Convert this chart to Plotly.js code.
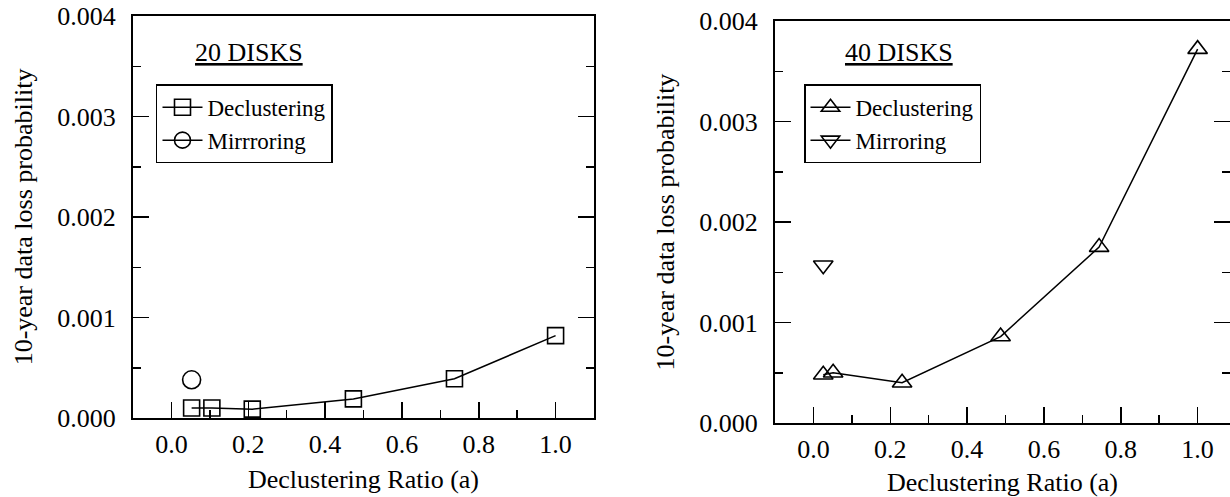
<!DOCTYPE html>
<html>
<head>
<meta charset="utf-8">
<script src="https://cdn.plot.ly/plotly-3.0.1.min.js"></script>
<style>
  html, body { margin: 0; padding: 0; overflow: hidden; background: #fff; }
  #chart { width: 1230px; height: 497px; }
</style>
</head>
<body>
<div id="chart"></div>
<script>
// ---- data ----
// 20 disks
const ratio20 = [0.0526, 0.1053, 0.2105, 0.4737, 0.7368, 1.0];
const declust20 = [0.00010, 0.00010, 0.000088, 0.00019, 0.00039, 0.00082];
const mirrorRatio20 = [0.0526];
const mirror20 = [0.00038];
// 40 disks
const ratio40 = [0.0256, 0.0513, 0.2308, 0.4872, 0.7436, 1.0];
const declust40 = [0.00048, 0.00050, 0.00040, 0.00086, 0.00175, 0.00372];
const mirrorRatio40 = [0.0256];
const mirror40 = [0.00157];

const xTickVals = [0, 0.2, 0.4, 0.6, 0.8, 1.0];
const xTickText = ['0.0', '0.2', '0.4', '0.6', '0.8', '1.0'];
const yTickVals = [0, 0.001, 0.002, 0.003, 0.004];
const yTickText = ['0.000', '0.001', '0.002', '0.003', '0.004'];

const xTitle = 'Declustering Ratio (a)';
const yTitle = '10-year data loss probability';
const panelTitles = ['<u>20 DISKS</u>', '<u>40 DISKS</u>'];

// ---- styles ----
const SERIF = 'Liberation Serif';
const INK = '#000';

function xAxis(domain, anchor, range) {
  return {
    domain: domain, anchor: anchor, range: range,
    tickmode: 'array', tickvals: xTickVals, ticktext: xTickText,
    ticks: 'inside', ticklen: 16, tickwidth: 1.5, tickcolor: INK,
    minor: { dtick: 0.1, tick0: 0, ticks: 'inside', ticklen: 8, tickwidth: 1.5, tickcolor: INK, showgrid: false },
    showline: true, linewidth: 2, linecolor: INK, mirror: true,
    showgrid: false, zeroline: false,
    tickfont: { family: SERIF, size: 26, color: INK },
    ticklabelstandoff: 2,
    title: { text: xTitle, font: { family: SERIF, size: 26, color: INK }, standoff: 12 },
    automargin: false, fixedrange: true
  };
}
function yAxis(domain, anchor, mirror) {
  return {
    domain: domain, anchor: anchor, range: [0, 0.004],
    tickmode: 'array', tickvals: yTickVals, ticktext: yTickText,
    ticks: 'inside', ticklen: 16, tickwidth: 1.5, tickcolor: INK,
    minor: { dtick: 0.0005, tick0: 0, ticks: 'inside', ticklen: 8, tickwidth: 1.5, tickcolor: INK, showgrid: false },
    showline: true, linewidth: 2, linecolor: INK, mirror: mirror,
    showgrid: false, zeroline: false,
    tickfont: { family: SERIF, size: 26, color: INK },
    ticklabelstandoff: 10,
    title: { text: yTitle, font: { family: SERIF, size: 26, color: INK }, standoff: 17 },
    automargin: false, fixedrange: true
  };
}

const lineStyle = { color: INK, width: 1.5 };

const traces = [
  { x: ratio20, y: declust20, name: 'Declustering', xaxis: 'x', yaxis: 'y',
    mode: 'lines+markers', line: lineStyle, legend: 'legend',
    marker: { symbol: 'square-open', size: 16, color: INK, line: { width: 1.6, color: INK } } },
  { x: mirrorRatio20, y: mirror20, name: 'Mirrroring', xaxis: 'x', yaxis: 'y',
    mode: 'lines+markers', line: lineStyle, legend: 'legend',
    marker: { symbol: 'circle-open', size: 18, color: INK, line: { width: 1.6, color: INK } } },
  { x: ratio40, y: declust40, name: 'Declustering', xaxis: 'x2', yaxis: 'y2',
    mode: 'lines+markers', line: lineStyle, legend: 'legend2',
    marker: { symbol: 'triangle-up-open', size: 17, color: INK, line: { width: 1.6, color: INK } } },
  { x: mirrorRatio40, y: mirror40, name: 'Mirroring', xaxis: 'x2', yaxis: 'y3',
    mode: 'lines+markers', line: lineStyle, legend: 'legend2',
    marker: { symbol: 'triangle-down-open', size: 17, color: INK, line: { width: 1.6, color: INK } } }
];

function legendStyle(x, y) {
  return {
    x: x, y: y,
    font: { family: SERIF, size: 23, color: INK },
    bordercolor: INK, borderwidth: 1.5, bgcolor: '#fff',
    xanchor: 'left', yanchor: 'top', itemwidth: 40, tracegroupgap: 0,
    itemclick: false, itemdoubleclick: false
  };
}

// right panel is cropped at the picture's right edge
const rightPanelRange = [-0.1, 1.0843];

const layout = {
  width: 1230, height: 497,
  margin: { l: 133, r: 0, t: 16, b: 74, pad: 0 },
  paper_bgcolor: '#fff', plot_bgcolor: '#fff',
  font: { family: SERIF, color: INK },
  xaxis: xAxis([0, 0.42024], 'y', [-0.1, 1.1]),
  yaxis: yAxis([0.012285, 1], 'x', 'allticks'),
  xaxis2: xAxis([0.58523, 1], 'y2', rightPanelRange),
  yaxis2: yAxis([0, 0.98771], 'x2', false),
  yaxis3: {
    overlaying: 'y2', side: 'right', anchor: 'x2', range: [0, 0.004],
    tickmode: 'array', tickvals: yTickVals, showticklabels: false,
    ticks: 'inside', ticklen: 16, tickwidth: 1.5, tickcolor: INK,
    minor: { dtick: 0.0005, tick0: 0, ticks: 'inside', ticklen: 8, tickwidth: 1.5, tickcolor: INK, showgrid: false },
    showline: false, showgrid: false, zeroline: false, fixedrange: true
  },
  legend: legendStyle(0.020966, 0.8322),
  legend2: legendStyle(0.61167, 0.8322),
  annotations: [
    { text: panelTitles[0], xref: 'x domain', yref: 'y domain', x: 0.2514, y: 0.9104,
      xanchor: 'center', yanchor: 'middle', showarrow: false,
      font: { family: SERIF, size: 26, color: INK } },
    { text: panelTitles[1], xref: 'x2 domain', yref: 'y2 domain', x: 0.2736, y: 0.921,
      xanchor: 'center', yanchor: 'middle', showarrow: false,
      font: { family: SERIF, size: 26, color: INK } }
  ],
  showlegend: true
};

Plotly.newPlot('chart', traces, layout, { displayModeBar: false, staticPlot: true });
</script>
</body>
</html>
